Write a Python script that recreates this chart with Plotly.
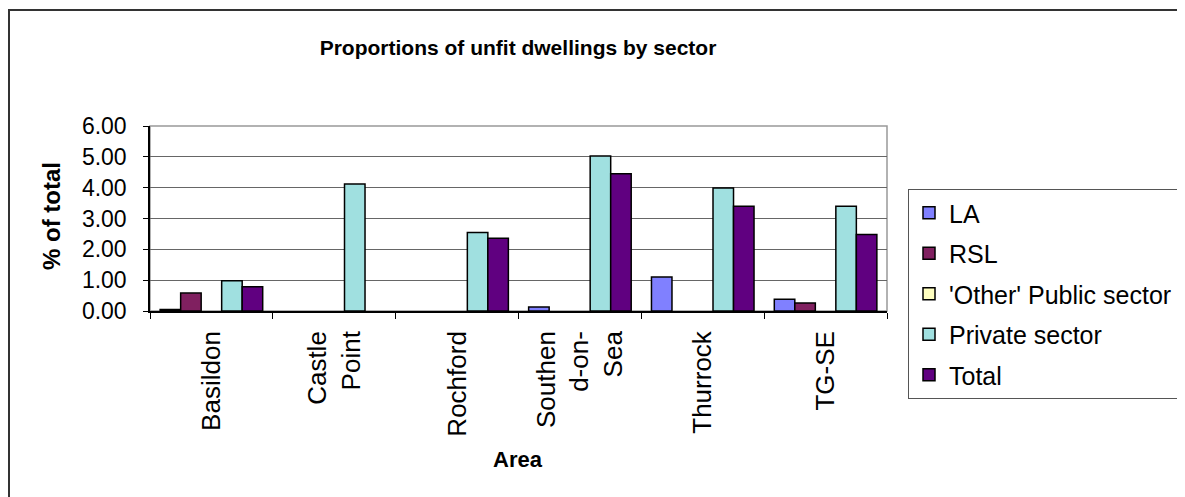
import plotly.graph_objects as go

areas = ["Basildon", "Castle<br>Point", "Rochford", "Southen<br>d-on-<br>Sea", "Thurrock", "TG-SE"]
la = [0.05, 0.0, 0.0, 0.13, 1.10, 0.38]
rsl = [0.58, 0.0, 0.0, 0.0, 0.0, 0.26]
other_public = [0.0, 0.0, 0.0, 0.0, 0.0, 0.0]
private = [0.98, 4.12, 2.55, 5.03, 3.99, 3.40]
total = [0.79, 0.0, 2.36, 4.45, 3.40, 2.48]
series_names = ["LA", "RSL", "'Other' Public sector", "Private sector", "Total"]
series_values = [la, rsl, other_public, private, total]
series_colors = ["#8080FF", "#802060", "#FFFFC0", "#A0E0E0", "#600080"]
y_ticks = [0, 1, 2, 3, 4, 5, 6]

# page body has an 8px margin; figure is laid out in reference-pixel terms
OFF = 8
W, H = 1185 - OFF, 497 - OFF
L, R, T, B = 150, 887, 126, 311  # plot area in reference pixels
FONT = "Liberation Sans, Arial, sans-serif"


def pxx(x):
    return (x - L) / (R - L)


def pyy(y):
    return (B - y) / (B - T)


fig = go.Figure()
for name, vals, col in zip(series_names, series_values, series_colors):
    fig.add_trace(go.Bar(
        x=areas, y=[v if v else None for v in vals], name=name, legendgroup=name,
        marker=dict(color=col, line=dict(color="black", width=1.5)),
    ))

fig.update_layout(
    width=W, height=H,
    margin=dict(l=L - OFF, r=1185 - R, t=T - OFF, b=497 - B, pad=0, autoexpand=False),
    paper_bgcolor="white", plot_bgcolor="white",
    font=dict(family=FONT, color="black", size=22),
    barmode="group", bargap=0.165, bargroupgap=0,
    title=dict(text="<b>Proportions of unfit dwellings by sector</b>",
               x=pxx(518), xref="paper", xanchor="center",
               y=1 - (48 - OFF) / H, yref="container", yanchor="middle",
               font=dict(size=21, family=FONT, color="black")),
    showlegend=True,
    legend=dict(
        x=pxx(908), y=pyy(189), xref="paper", yref="paper",
        xanchor="left", yanchor="top",
        bgcolor="white", bordercolor="#555555", borderwidth=1,
        font=dict(size=25, family=FONT, color="black"),
        traceorder="grouped", tracegroupgap=5,
        itemwidth=30, maxheight=400,
    ),
    xaxis=dict(
        showline=True, linecolor="black", linewidth=1.5,
        ticks="outside", tickson="boundaries", ticklen=6, tickcolor="black",
        tickangle=-90, tickfont=dict(size=26, family=FONT),
        ticklabelstandoff=8, automargin=False,
        showgrid=False, zeroline=False,
    ),
    yaxis=dict(
        range=[0, 6], tickvals=y_ticks, tickformat=".2f",
        showline=True, linecolor="black", linewidth=1.5,
        ticks="outside", ticklen=5, tickcolor="black",
        ticklabelstandoff=12, automargin=False,
        showgrid=True, gridcolor="#666666", gridwidth=1,
        zeroline=False, tickfont=dict(size=23, family=FONT),
    ),
)

# plot area border (grey)
fig.add_shape(type="rect", xref="paper", yref="paper", x0=0, y0=0, x1=1, y1=1,
              line=dict(color="#999999", width=1.5), layer="below")
# outer chart border (extends beyond the visible area on right and bottom)
fig.add_shape(type="rect", xref="paper", yref="paper",
              x0=pxx(9), y0=pyy(560), x1=pxx(1260), y1=pyy(10),
              line=dict(color="#333333", width=2), layer="below")

fig.add_annotation(text="<b>% of total</b>", xref="paper", yref="paper",
                   x=pxx(51), y=pyy(216), textangle=-90, showarrow=False,
                   xanchor="center", yanchor="middle",
                   font=dict(size=24, family=FONT, color="black"))
fig.add_annotation(text="<b>Area</b>", xref="paper", yref="paper",
                   x=pxx(518), y=pyy(459), showarrow=False,
                   xanchor="center", yanchor="middle",
                   font=dict(size=22, family=FONT, color="black"))

fig.write_html("out.html")
